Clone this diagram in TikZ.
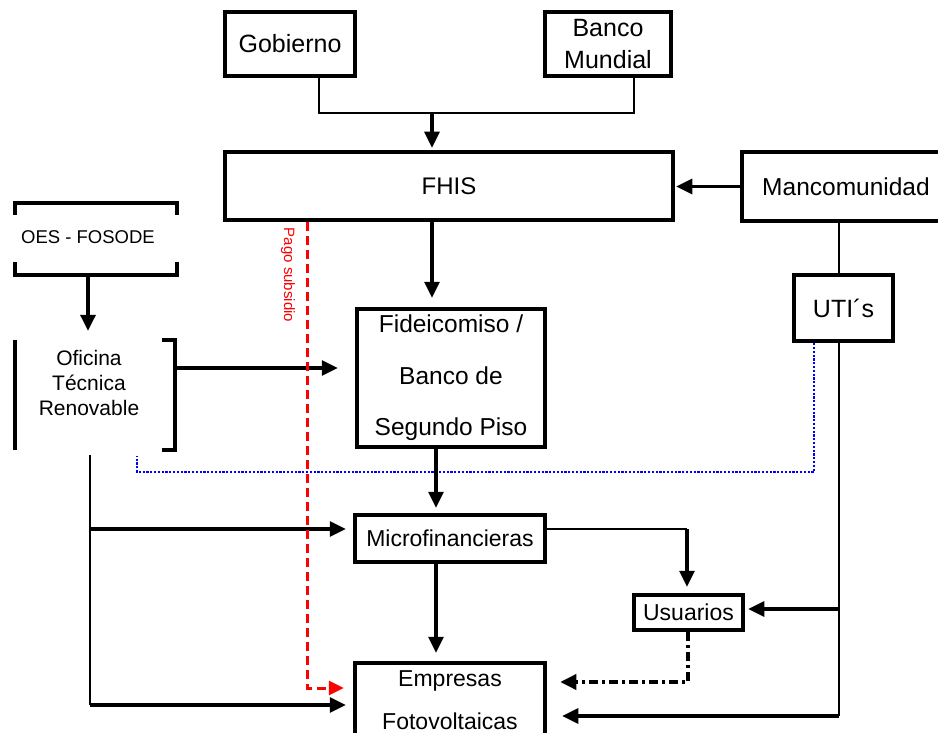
\documentclass[tikz,border=0pt]{standalone}
\usepackage{fontspec}
\setmainfont{Liberation Sans}
\usetikzlibrary{arrows.meta,calc}
\newcommand\fsz[2]{\fontsize{#1}{#2}\selectfont}
\begin{document}
\begin{tikzpicture}[x=1pt,y=-1pt,
  box/.style={draw,line width=4.5pt,inner sep=0pt,align=center},
  arr/.style={line width=3.3pt,-{Triangle[length=16pt,width=15pt]}},
  thinl/.style={line width=1.4pt},
  brk/.style={line width=4.5pt}]
\path[fill=white,use as bounding box] (0,0) rectangle (938,733);

% boxes
\node[box,minimum width=130pt,minimum height=64pt,font=\fsz{25}{30}] (gob) at (290,44) {Gobierno};
\node[box,minimum width=126pt,minimum height=64pt,font=\fsz{25}{32}] (bm) at (608,44) {Banco\\Mundial};
\node[box,minimum width=448pt,minimum height=68pt,font=\fsz{24}{29}] (fhis) at (449,186) {FHIS};
\node[box,minimum width=208pt,minimum height=69pt,font=\fsz{24.5}{28}] (manc) at (846,186.5) {Mancomunidad};
\node[box,minimum width=99pt,minimum height=66pt,font=\fsz{25}{29}] (uti) at (843.5,308) {UTI´s};
\node[box,minimum width=188pt,minimum height=138pt,font=\fsz{24.5}{51.5}] (fid) at (451,378) {Fideicomiso /\\Banco de\\Segundo Piso};
\node[box,minimum width=190pt,minimum height=47pt,font=\fsz{23}{28}] (mic) at (450,538.5) {Microfinancieras};
\node[box,minimum width=109pt,minimum height=35pt,font=\fsz{23}{28}] (usu) at (688.5,612.5) {Usuarios};
\node[box,minimum width=190pt,minimum height=74pt,font=\fsz{23}{43}] (emp) at (450,700) {Empresas\\Fotovoltaicas};

% bracket boxes
\node[minimum width=162pt,minimum height=72pt,inner sep=0pt] (oes) at (96,239) {};
\node[font=\fsz{18.5}{22}] (oest) at (88,237) {OES - FOSODE};
\draw[brk] ($(oes.north west)+(0,12)$) -- (oes.north west) -- (oes.north east) -- ($(oes.north east)+(0,12)$);
\draw[brk] ($(oes.south west)+(0,-13)$) -- (oes.south west) -- (oes.south east) -- ($(oes.south east)+(0,-13)$);

\node[minimum width=160pt,minimum height=110pt,inner sep=0pt] (ofi) at (95,395) {};
\node[font=\fsz{21}{25},align=center] (ofit) at (89,383) {Oficina\\Técnica\\Renovable};
\draw[brk] (ofi.north west) -- (ofi.south west);
\draw[brk] ($(ofi.north east)+(-13,0)$) -- (ofi.north east) -- (ofi.south east) -- ($(ofi.south east)+(-13,0)$);

% top connectors
\coordinate (j) at (432,113);
\draw[thinl] ([xshift=29pt]gob.south) |- (j) -| ([xshift=26pt]bm.south);
\draw[arr,shorten >=2pt] (j) -- (j |- fhis.north);
\draw[arr,shorten >=1pt] (manc.west) -- (manc.west -| fhis.east);

% right vertical
\coordinate (vx) at (839,716);
\draw[thinl] (manc.south -| vx) -- (uti.north -| vx);
\draw[thinl] (uti.south -| vx) -- (vx);
\coordinate (vu) at (839,609);
\draw[arr,shorten >=3pt] (vu) -- (vu -| usu.east);
\draw[arr,shorten >=15pt] (vx) -- (vx -| emp.east);

% blue dotted
\coordinate (b1) at (814,472);
\coordinate (b2) at (137,456);
\draw[blue,line width=2.6pt,dash pattern=on 2.2pt off 1.6pt] (uti.south -| b1) -- (b1) -| (b2);

% central column
\draw[arr,shorten >=9pt] (j |- fhis.south) -- (j |- fid.north);
\coordinate (mx) at (436,500);
\draw[arr,shorten >=5pt] (mx |- fid.south) -- (mx |- mic.north);
\draw[arr,shorten >=8pt] (mx |- mic.south) -- (mx |- emp.north);

% left
\coordinate (oa) at (177,368);
\draw[arr,shorten >=17pt] (oa) -- (oa -| fid.west);
\coordinate (oesx) at (88,300);
\draw[arr,shorten >=9pt] (oesx |- oes.south) -- (oesx |- ofi.north);
\coordinate (lx1) at (90,455);
\coordinate (lx2) at (90,705);
\coordinate (ly) at (90,529);
\draw[line width=2.2pt] (lx1) -- (lx2);
\draw[arr,shorten >=7pt] (ly) -- (ly -| mic.west);
\draw[arr,shorten >=7pt] (lx2) -- (lx2 -| emp.west);

% micro to usuarios
\coordinate (mu2) at (687,529);
\draw[thinl] (mu2 -| mic.east) -- (mu2);
\draw[arr,shorten >=6pt] (mu2) -- (mu2 |- usu.north);

% dash-dot
\coordinate (dd) at (688,682);
\draw[line width=3.5pt,dash pattern=on 9pt off 4pt on 3pt off 4pt,-{Triangle[length=16pt,width=15pt]},shorten >=13pt] (dd |- usu.south) -- (dd) -- (dd -| emp.east);

% red dashed
\coordinate (rd) at (307,688);
\draw[red,line width=3pt,dash pattern=on 9pt off 5pt,-{Triangle[length=15pt,width=14pt]},shorten >=9pt] (rd |- fhis.south) -- (rd) -- (rd -| emp.west);
\node[red,rotate=-90,font=\fsz{15}{18}] (pago) at (288,275) {Pago subsidio};
\end{tikzpicture}
\end{document}
